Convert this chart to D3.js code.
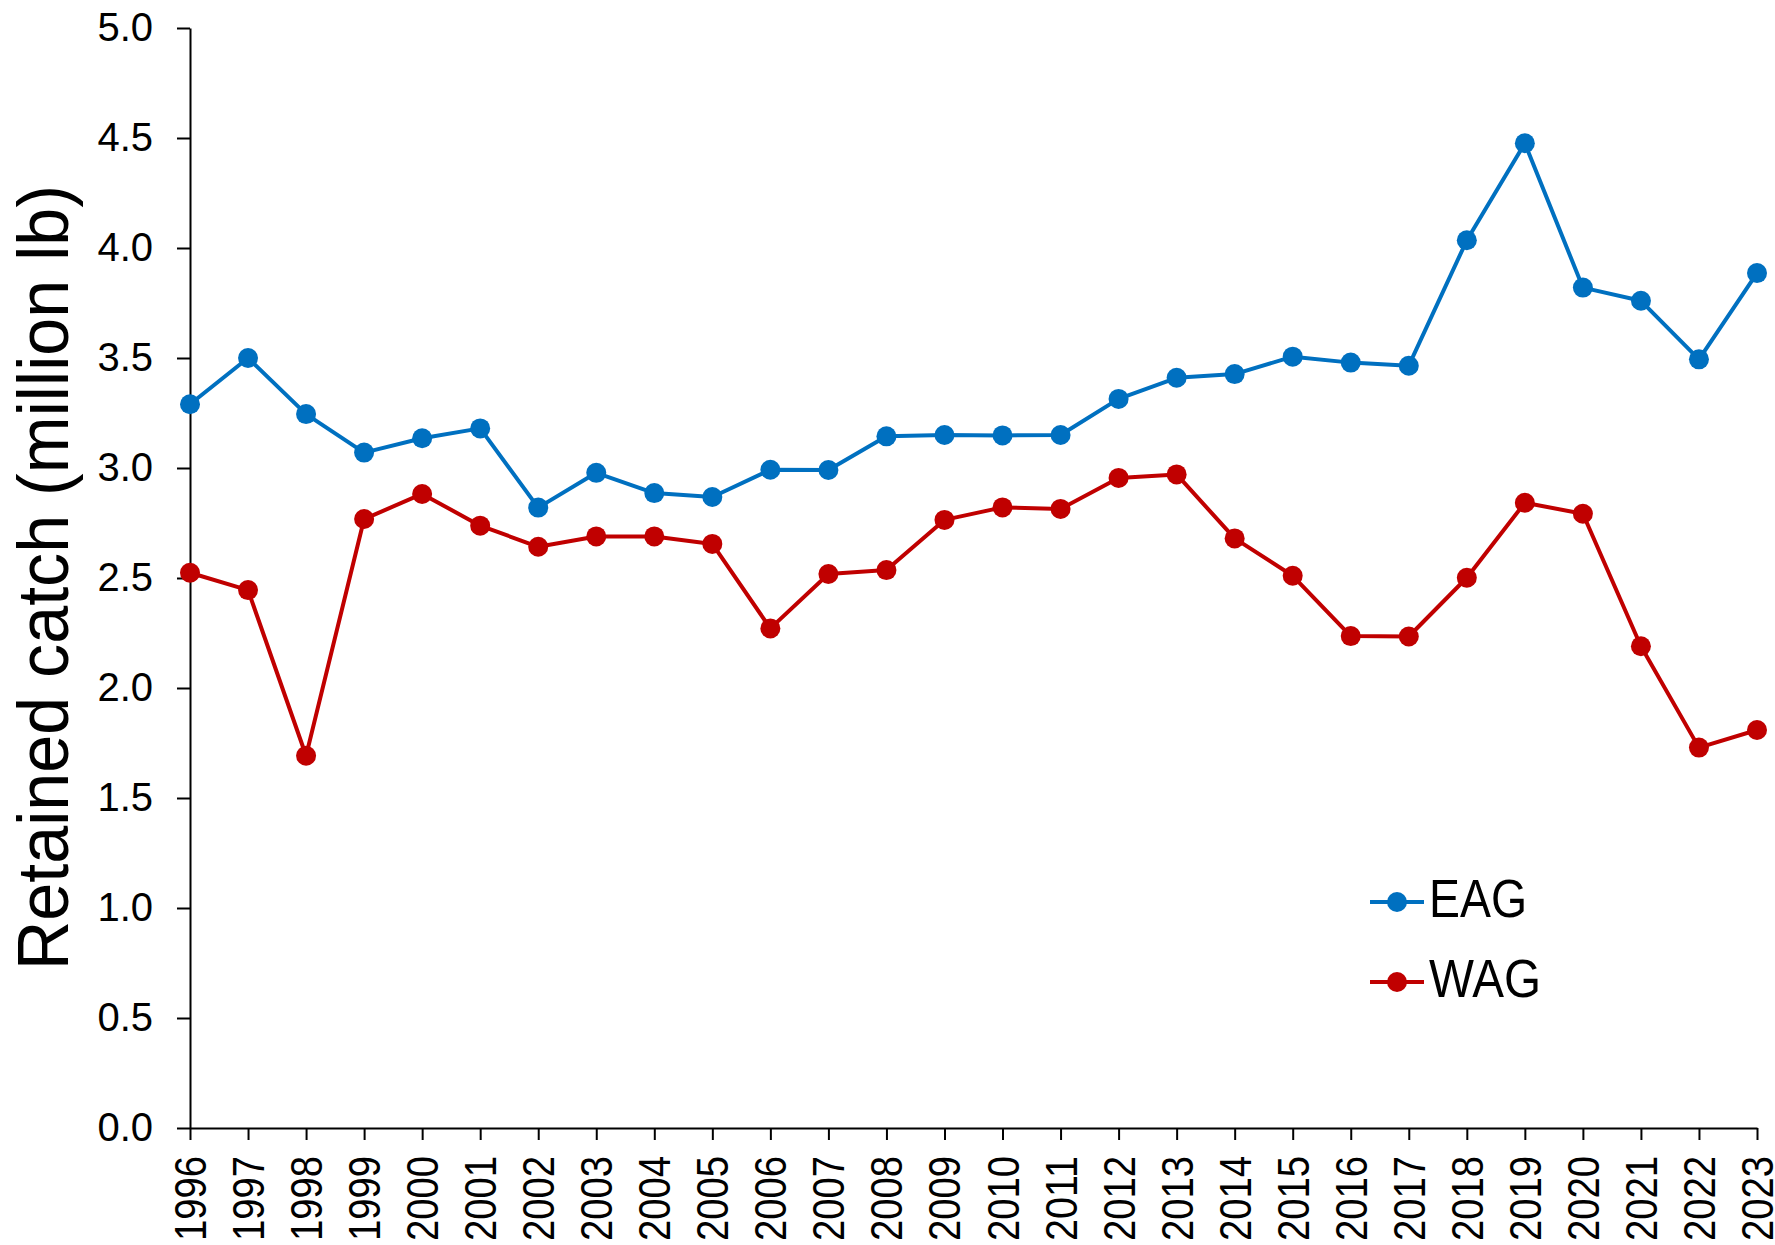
<!DOCTYPE html>
<html>
<head>
<meta charset="utf-8">
<script src="https://cdn.jsdelivr.net/npm/d3@7"></script>
<style>
  html, body { margin: 0; padding: 0; background: #fff; }
  svg { display: block; font-family: "Liberation Sans", Arial, sans-serif; }
</style>
</head>
<body>
<svg id="chart" width="1775" height="1245"></svg>
<script>
// Retained catch by year, million lb
const years = [1996, 1997, 1998, 1999, 2000, 2001, 2002, 2003, 2004, 2005,
               2006, 2007, 2008, 2009, 2010, 2011, 2012, 2013, 2014, 2015,
               2016, 2017, 2018, 2019, 2020, 2021, 2022, 2023];
const eag = [3.29, 3.50, 3.245, 3.07, 3.135, 3.18, 2.82, 2.978, 2.886, 2.868,
             2.992, 2.991, 3.144, 3.15, 3.148, 3.15, 3.314, 3.41, 3.427, 3.506,
             3.479, 3.465, 4.035, 4.476, 3.82, 3.76, 3.494, 3.886];
const wag = [2.524, 2.445, 1.692, 2.768, 2.882, 2.738, 2.642, 2.689, 2.689, 2.655,
             2.271, 2.518, 2.536, 2.764, 2.821, 2.814, 2.955, 2.971, 2.68, 2.51,
             2.236, 2.234, 2.501, 2.842, 2.792, 2.19, 1.729, 1.809];
const yTicks = [0, 0.5, 1, 1.5, 2, 2.5, 3, 3.5, 4, 4.5, 5];
const seriesNames = ["EAG", "WAG"];
const seriesColors = ["#0070C0", "#C00000"];
const yTitle = "Retained catch (million lb)";

const svg = d3.select("#chart");
const plotLeft = 190, plotRight = 1757, plotTop = 28, plotBottom = 1128;

const x = d3.scalePoint().domain(years).range([plotLeft, plotRight]);
const y = d3.scaleLinear().domain([0, 5]).range([plotBottom, plotTop]);

// y axis
const yAxis = svg.append("g")
  .attr("transform", `translate(${plotLeft},0)`)
  .call(d3.axisLeft(y).tickValues(yTicks).tickSize(13).tickSizeOuter(0).tickPadding(24)
    .tickFormat(d3.format(".1f")));
yAxis.select(".domain").attr("stroke", "#000").attr("stroke-width", 2);
yAxis.selectAll(".tick line").attr("stroke", "#000").attr("stroke-width", 2);
yAxis.selectAll(".tick text")
  .attr("fill", "#000").attr("font-size", 40)
  .attr("font-family", "Liberation Sans, Arial, sans-serif");

// x axis
const xAxis = svg.append("g")
  .attr("transform", `translate(0,${plotBottom})`)
  .call(d3.axisBottom(x).tickSize(12).tickSizeOuter(0));
xAxis.select(".domain").attr("stroke", "#000").attr("stroke-width", 2);
xAxis.selectAll(".tick line").attr("stroke", "#000").attr("stroke-width", 2);
xAxis.selectAll(".tick text")
  .attr("fill", "#000").attr("font-size", 44)
  .attr("font-family", "Liberation Sans, Arial, sans-serif")
  .attr("text-anchor", "end")
  .attr("dy", null)
  .attr("y", 0)
  .attr("dominant-baseline", "central")
  .attr("transform", "translate(0,28) rotate(-90)")
  .attr("textLength", 85)
  .attr("lengthAdjust", "spacingAndGlyphs");

// y axis title
svg.append("text")
  .attr("transform", "translate(68,970) rotate(-90)")
  .attr("font-size", 73)
  .attr("fill", "#000")
  .attr("textLength", 785)
  .attr("lengthAdjust", "spacingAndGlyphs")
  .text(yTitle);

// series
const line = d3.line().x((d, i) => x(years[i])).y(d => y(d));
[eag, wag].forEach((vals, k) => {
  const g = svg.append("g");
  g.append("path")
    .datum(vals)
    .attr("d", line)
    .attr("fill", "none")
    .attr("stroke", seriesColors[k])
    .attr("stroke-width", 4)
    .attr("stroke-linejoin", "round");
  g.selectAll("circle")
    .data(vals)
    .join("circle")
    .attr("cx", (d, i) => x(years[i]))
    .attr("cy", d => y(d))
    .attr("r", 10)
    .attr("fill", seriesColors[k]);
});

// legend
const legendY = [902, 982];
const legendLen = [98, 112];
seriesNames.forEach((name, k) => {
  const g = svg.append("g").attr("transform", `translate(0,${legendY[k]})`);
  g.append("line")
    .attr("x1", 1370).attr("x2", 1424)
    .attr("stroke", seriesColors[k]).attr("stroke-width", 4);
  g.append("circle").attr("cx", 1397).attr("cy", 0).attr("r", 10)
    .attr("fill", seriesColors[k]);
  g.append("text")
    .attr("x", 1429).attr("y", 15)
    .attr("font-size", 54)
    .attr("fill", "#000")
    .attr("textLength", legendLen[k])
    .attr("lengthAdjust", "spacingAndGlyphs")
    .text(name);
});
</script>
</body>
</html>
